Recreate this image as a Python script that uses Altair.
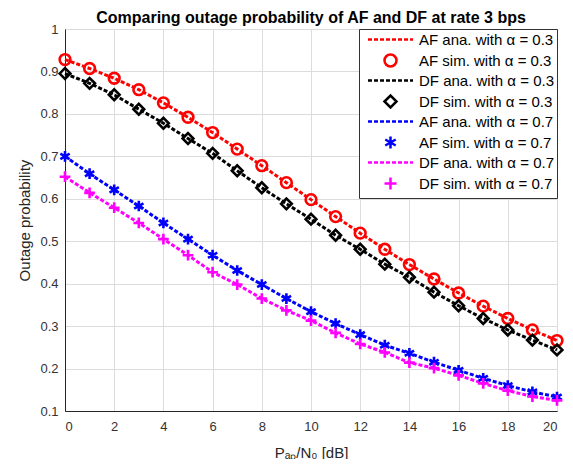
import altair as alt
import pandas as pd

# ---- data ----
snr_db = list(range(0, 21))

af_03 = [0.928, 0.907, 0.884, 0.857, 0.826, 0.792, 0.756, 0.717, 0.678, 0.638, 0.598,
         0.558, 0.519, 0.481, 0.445, 0.411, 0.378, 0.347, 0.318, 0.291, 0.266]
df_03 = [0.895, 0.872, 0.845, 0.811, 0.778, 0.742, 0.707, 0.666, 0.626, 0.588, 0.552,
         0.514, 0.481, 0.446, 0.415, 0.380, 0.348, 0.318, 0.291, 0.267, 0.244]
af_07 = [0.700, 0.659, 0.621, 0.583, 0.543, 0.505, 0.467, 0.431, 0.398, 0.365, 0.334,
         0.306, 0.280, 0.255, 0.236, 0.215, 0.196, 0.177, 0.160, 0.145, 0.133]
df_07 = [0.652, 0.614, 0.579, 0.543, 0.505, 0.467, 0.427, 0.398, 0.365, 0.337, 0.313,
         0.284, 0.258, 0.238, 0.214, 0.201, 0.184, 0.165, 0.148, 0.134, 0.125]

labels = [
    "AF ana. with α = 0.3", "AF sim. with α = 0.3",
    "DF ana. with α = 0.3", "DF sim. with α = 0.3",
    "AF ana. with α = 0.7", "AF sim. with α = 0.7",
    "DF ana. with α = 0.7", "DF sim. with α = 0.7",
]
colors = ["#ff0000", "#ff0000", "#000000", "#000000",
          "#0000ff", "#0000ff", "#ff00ff", "#ff00ff"]

DASH = ("M-3.75,0H-3.083M-2.75,0H-2.083M-1.75,0H-1.083M-0.75,0H-0.083"
        "M0.25,0H0.917M1.25,0H1.917M2.25,0H2.917M3.25,0H3.75")
ASTER = "M0,-1V1M-0.87,-0.5L0.87,0.5M-0.87,0.5L0.87,-0.5"
PLUS = "M-1,0H1M0,-1V1"
shapes = [DASH, "circle", DASH, "diamond", DASH, ASTER, DASH, PLUS]

series_vals = [af_03, df_03, af_07, df_07]
ana_rows, sim_rows = [], []
for i, vals in enumerate(series_vals):
    for x, v in zip(snr_db, vals):
        ana_rows.append({"x": x, "y": v, "series": labels[2 * i]})
        sim_rows.append({"x": x, "y": v, "series": labels[2 * i + 1]})
ana_df = pd.DataFrame(ana_rows)
sim_df = pd.DataFrame(sim_rows)

FONT = "Liberation Sans"
xenc = alt.X("x:Q", scale=alt.Scale(domain=[0, 20], nice=False),
             axis=alt.Axis(values=list(range(0, 21, 2)),
                           title="Pₐₚ/N₀ [dB]", labelPadding=9, titlePadding=12))
yenc = alt.Y("y:Q", scale=alt.Scale(domain=[0.1, 1.0], nice=False, zero=False),
             axis=alt.Axis(values=[round(0.1 * k, 1) for k in range(1, 11)],
                           format=".1~f", title="Outage probability",
                           labelPadding=7, titlePadding=7))

color_scale = alt.Scale(domain=labels, range=colors)
shape_scale = alt.Scale(domain=labels, range=shapes)

lines = alt.Chart(ana_df).mark_line(strokeDash=[4, 2], strokeWidth=3).encode(
    x=xenc, y=yenc,
    color=alt.Color("series:N", scale=color_scale, legend=None),
)

leg = alt.Legend(title=None, orient="top-right", offset=0)
points = alt.Chart(sim_df).mark_point(filled=False, size=115, strokeWidth=2.6, opacity=1).encode(
    x=xenc, y=yenc,
    color=alt.Color("series:N", scale=color_scale, legend=leg),
    shape=alt.Shape("series:N", scale=shape_scale, legend=leg),
)

chart = alt.layer(lines, points).resolve_legend(
    color="independent", shape="independent"
).properties(
    width=492, height=382,
    title=alt.TitleParams("Comparing outage probability of AF and DF at rate 3 bps",
                          font=FONT, fontSize=16, fontWeight="bold", color="#000000",
                          anchor="middle", offset=-3),
    autosize=alt.AutoSizeParams(type="none"),
    padding={"left": 57, "top": 21, "right": 8, "bottom": 48},
).configure_view(
    stroke="#262626", strokeWidth=1
).configure_axis(
    domainColor="#262626", domainWidth=1, ticks=False,
    gridColor="#dcdcdc", gridWidth=1,
    labelFont=FONT, labelFontSize=13, labelColor="#333333",
    titleFont=FONT, titleFontSize=15, titleFontWeight="normal", titleColor="#262626",
).configure_legend(
    fillColor="#ffffff", strokeColor="#333333", padding=3, cornerRadius=0,
    labelFont=FONT, labelFontSize=15, labelColor="#000000", labelLimit=300,
    symbolSize=144, symbolStrokeWidth=2.5, symbolOffset=21, labelOffset=21,
    rowPadding=1,
)

chart.save("out.html", embed_options={"renderer": "svg", "actions": False})
